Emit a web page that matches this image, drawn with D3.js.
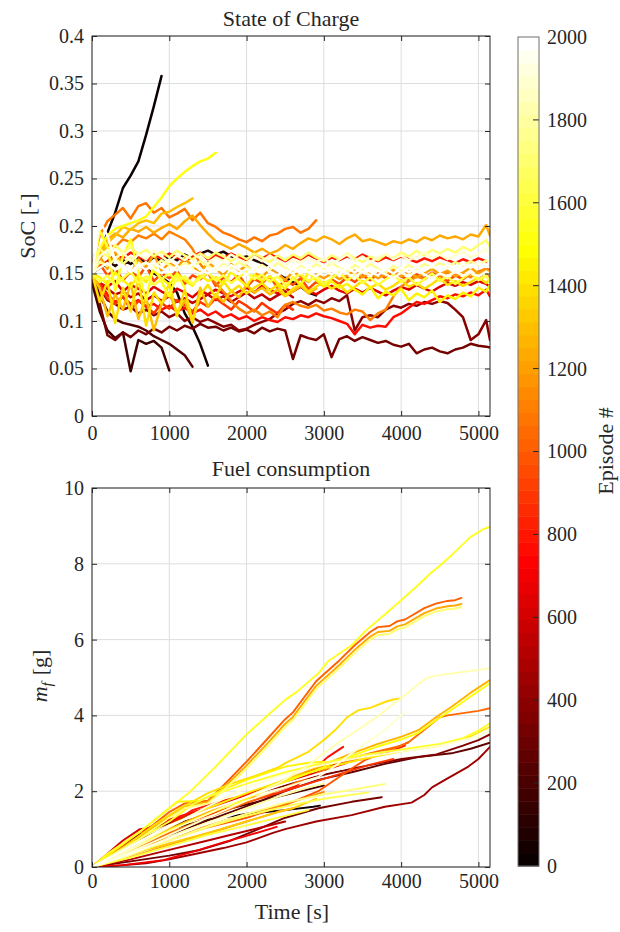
<!DOCTYPE html>
<html>
<head>
<meta charset="utf-8">
<script src="https://cdn.jsdelivr.net/npm/d3@7"></script>
<style>
  body { margin: 0; background: #fff; }
  svg { display: block; }
  text { font-family: "Liberation Serif", "Times New Roman", serif; fill: #262626; }
</style>
</head>
<body>
<svg id="fig" width="620" height="932"></svg>
<script>
// ---------- ticks ----------
const timeTicks = [0, 1000, 2000, 3000, 4000, 5000];
const socTicks = [0, 0.05, 0.1, 0.15, 0.2, 0.25, 0.3, 0.35, 0.4];
const socTickLabels = ["0", "0.05", "0.1", "0.15", "0.2", "0.25", "0.3", "0.35", "0.4"];
const fuelTicks = [0, 2, 4, 6, 8, 10];
const episodeTicks = [0, 200, 400, 600, 800, 1000, 1200, 1400, 1600, 1800, 2000];

// ---------- state of charge: sample times [s] ----------
const socTime = [0,100,200,300,400,500,600,700,800,900,
  1000,1100,1200,1300,1400,1500,1600,1700,1800,1900,
  2000,2100,2200,2300,2400,2500,2600,2700,2800,2900,
  3000,3100,3200,3300,3400,3500,3600,3700,3800,3900,
  4000,4100,4200,4300,4400,4500,4600,4700,4800,4900,
  5000,5100,5150];

// SoC per episode (one value per sample time, runs may stop early)
const soc_e20 = [.150,.170,.193,.214,.240,.253,.268,.296,.326,.358];
const soc_e50 = [.152,.160,.157,.165,.160,.163,.158,.155,.150,.146,
  .140,.130,.108,.094,.076,.053];
const soc_e75 = [.150,.156,.162,.158,.164,.160,.166,.161,.167,.163,
  .168,.164,.170,.166,.171,.174,.170,.173,.168,.166,
  .168,.164,.161,.156,.151,.146,.141,.136,.130,.127];
const soc_e170 = [.140,.110,.090,.082,.088,.047,.080,.076,.079,.072,.048];
const soc_e230 = [.145,.128,.110,.102,.098,.096,.094,.090,.084,.080,
  .076,.070,.064,.052];
const soc_e330 = [.145,.118,.085,.080,.088,.083,.090,.086,.092,.088,
  .094,.090,.095,.092,.097,.093,.094,.090,.093,.089,
  .091,.087,.093,.089,.092,.090,.060,.085,.082,.080,
  .086,.062,.081,.084,.079,.083,.080,.077,.079,.075,
  .073,.076,.066,.070,.072,.068,.066,.070,.072,.076,
  .074,.073,.072];
const soc_e380 = [.148,.135,.122,.118,.112,.115,.108,.112,.106,.110,
  .104,.108,.100,.104,.099,.102,.098,.094,.096,.090,
  .092,.096,.099,.102,.108,.112,.118,.121,.117,.122,
  .119,.124,.121,.127,.090,.104,.106,.104,.112,.116,
  .114,.118,.116,.120,.118,.121,.119,.112,.104,.080,
  .086,.101,.080];
const soc_e560 = [.148,.140,.134,.128,.131,.125,.129,.122,.127,.121,
  .126,.120,.124,.119,.123,.128,.122,.126,.120,.125,
  .130,.124,.128,.122,.127,.131,.125];
const soc_e640 = [.148,.140,.136,.142,.131,.138,.134,.129,.136,.131,
  .127,.134,.130,.125,.132,.128,.133,.129,.126,.131,
  .135,.130,.137,.133,.129,.134,.131,.136,.132,.128,
  .133,.137,.132,.129,.134,.130,.135,.131,.127,.132,
  .136,.133,.138,.134,.131,.136,.140,.137,.141,.138,
  .142,.139,.136];
const soc_e750 = [.150,.140,.128,.120,.125,.118,.122,.115,.118,.112,
  .116,.110,.114,.108,.112,.106,.110,.104,.107,.102,
  .105,.100,.104,.101,.099,.104,.102,.106,.104,.108,
  .105,.103,.100,.097,.086,.096,.093,.095,.094,.104,
  .108,.114,.120,.118,.122,.126,.124,.128,.126,.130,
  .127,.133,.126];
const soc_e800 = [.150,.157,.163,.170,.166,.172,.168,.164,.170,.166,
  .171,.167,.163,.168,.172,.165,.169,.166,.171,.167,
  .164,.169,.166,.170,.167,.163,.168,.165,.169,.166,
  .162,.167,.164,.168,.165,.170,.166,.163,.167,.164,
  .168,.165,.162,.166,.163,.167,.164,.161,.165,.162,
  .166,.163,.160];
const soc_e880 = [.150,.138,.124,.118,.126,.112,.121,.116,.108,.119,
  .113,.122,.117,.110,.120,.115,.124,.118,.112,.121,
  .116,.110,.119,.113,.108,.117,.112];
const soc_e960 = [.150,.160,.148,.155,.143,.152,.146,.158,.142,.150,
  .145,.153,.139,.148,.144,.151,.137,.146,.141,.149,
  .136,.144,.140,.147,.135,.143,.138,.145,.134,.141,
  .137,.144,.139,.146,.141,.148,.143,.150,.145,.152,
  .147,.143,.149,.145,.151,.146,.142,.148,.144,.150,
  .146,.152,.147];
const soc_e1070 = [.158,.190,.205,.212,.219,.208,.221,.224,.214,.219,
  .209,.213,.218,.206,.214,.203,.199,.193,.190,.186,
  .183,.188,.184,.190,.192,.197,.199,.193,.197,.206];
const soc_e1100 = [.150,.165,.180,.178,.186,.183,.190,.187,.192,.186,
  .194,.190,.186,.176,.160,.150,.140,.131,.121,.113,
  .108,.112,.106,.110,.104,.117,.120,.116,.114,.117,
  .111,.113,.109,.107,.112,.110,.101,.108,.112,.126,
  .136,.142,.147,.144,.149,.146,.151,.148,.150,.146,
  .152,.155,.154];
const soc_e1200 = [.152,.168,.155,.172,.160,.150,.165,.157,.170,.153,
  .161,.156,.166,.158,.150,.162,.155,.148,.160,.153,
  .158,.151,.146,.155,.150,.143,.152,.147,.141,.149,
  .145,.150,.144,.148,.153,.146,.151,.145,.149,.154,
  .147,.152,.146,.150,.155,.149,.153,.147,.151,.156,
  .150,.154,.148];
const soc_e1240 = [.150,.172,.186,.192,.188,.197,.194,.199,.193,.198,
  .202,.197,.205,.211,.201,.192,.184,.180,.176,.181,
  .177,.172,.176,.171,.174,.180,.176,.182,.187,.184,
  .189,.186,.181,.187,.191,.184,.186,.183,.180,.184,
  .182,.186,.183,.188,.185,.190,.187,.189,.186,.191,
  .189,.201,.190];
const soc_e1290 = [.150,.168,.182,.190,.199,.196,.203,.206,.203,.213,
  .215,.220,.224,.229];
const soc_e1300 = [.148,.135,.105,.128,.112,.140,.102,.125,.090,.118,
  .130,.108,.122,.098,.135,.115,.128,.120,.132,.125,
  .138,.130,.135,.128,.133,.126,.131,.137,.129,.134];
const soc_e1380 = [.150,.120,.142,.098,.135,.110,.145,.095,.130,.118,
  .140,.105,.133,.100,.128,.138,.125,.142,.131,.137,
  .129,.135,.140,.132,.138,.127,.134,.139,.131,.136,
  .141,.134,.138,.130,.136,.142,.135,.139,.133,.137,
  .143,.136,.140,.134,.139,.145,.138,.142,.137,.141,
  .146,.140,.144];
const soc_e1460 = [.150,.146,.139,.151,.143,.136,.148,.141,.153,.145,
  .138,.150,.143,.137,.149,.142,.146,.139,.152,.144,
  .137,.149,.142,.147,.140,.134,.146,.138,.151,.143,
  .136,.142,.135,.139,.133,.128,.136,.124,.131,.127,
  .134,.122,.129,.125,.132,.120,.127,.123,.130,.126,
  .135,.131,.138];
const soc_e1520 = [.152,.176,.190,.197,.200,.203,.206,.210,.220,.230,
  .242,.250,.257,.263,.268,.271,.277];
const soc_e1560 = [.150,.195,.178,.132,.168,.186,.152,.122,.160,.141,
  .126,.150,.135];
const soc_e1620 = [.150,.141,.148,.137,.145,.152,.140,.147,.138,.144,
  .150,.142,.147,.139,.145,.151,.143,.148,.140,.146,
  .152,.144,.149,.141,.147,.138,.144,.150,.142,.147,
  .139,.145,.151,.143,.148,.140,.146,.138,.144,.149,
  .141,.146,.138,.144,.150,.142,.147,.139,.145,.151,
  .143,.148,.141];
const soc_e1700 = [.152,.176,.168,.180,.172,.178,.170,.175,.168,.173,
  .167,.174,.169,.165,.171,.166,.172,.168,.163,.170,
  .165,.171,.167,.162,.169,.164,.170,.166,.172,.167,
  .163,.169,.165,.171,.166,.162,.168,.164,.170,.166,
  .172,.168,.174,.169,.175,.171,.176,.172,.178,.174,
  .180,.185,.178];
const soc_e1760 = [.150,.162,.158,.165,.160,.167,.155,.161,.157,.164,
  .159,.154,.161,.156,.163,.158,.153,.160,.155,.162,
  .157,.152,.159,.154,.161,.156,.150,.158,.153,.160,
  .155,.161,.156,.152,.159,.154,.160,.155,.151,.158,
  .153,.159,.154,.160,.156,.161,.157,.162,.158,.163,
  .159,.164,.160];
const soc_e1880 = [.152,.168,.175,.166,.172,.163,.170,.165,.174,.168,
  .162,.169,.164,.171,.166,.160,.167,.163,.170,.165,
  .161,.168,.163,.169,.164,.158,.165,.161,.167,.162,
  .166,.160,.165,.170,.163,.168,.162,.167,.171,.165,
  .169,.164,.168,.172,.166,.170,.165,.169,.173,.167,
  .171,.176,.170];
const soc_e1960 = [.150,.156,.161,.154,.159,.152,.157,.162,.155,.150,
  .157,.153,.159,.154,.150,.156,.152,.158,.153,.149,
  .155,.151,.157,.152,.148,.154,.150,.156,.151,.147,
  .153,.149,.155,.150,.146,.152,.148,.154,.149,.145,
  .151,.147,.153,.149,.145,.150,.147,.152,.148,.151,
  .147,.152,.149];
const soc_e1990 = [.150,.205,.190,.163,.157,.152,.159,.154,.161,.156,
  .151,.158,.153,.160,.155,.150,.157,.152,.159,.154,
  .149,.156,.151,.158,.153,.148,.155,.150,.157,.152,
  .158,.153,.149,.156,.151,.157,.152,.148,.155,.150,
  .156,.151,.157,.153,.158,.154,.159,.155,.160,.156,
  .161,.157,.162];

const socEpisodes = [20, 50, 75, 170, 230, 330, 380, 560, 640, 750, 800, 880, 960,
  1070, 1100, 1200, 1240, 1290, 1300, 1380, 1460, 1520, 1560, 1620, 1700, 1760, 1880, 1960, 1990];
const socRuns = [soc_e20, soc_e50, soc_e75, soc_e170, soc_e230, soc_e330, soc_e380, soc_e560,
  soc_e640, soc_e750, soc_e800, soc_e880, soc_e960, soc_e1070, soc_e1100, soc_e1200, soc_e1240,
  soc_e1290, soc_e1300, soc_e1380, soc_e1460, soc_e1520, soc_e1560, soc_e1620, soc_e1700,
  soc_e1760, soc_e1880, soc_e1960, soc_e1990];

// ---------- cumulative fuel [g] per episode: [time s, mass g] ----------
const fuel_e40 = [[0,0],[300,0.35],[600,0.7],[810,0.89],[1100,1.05],[1500,1.25],[2000,1.4],[2500,1.5],[2863,1.59],[2950,1.62]];
const fuel_e200 = [[0,0],[300,0.3],[700,0.7],[900,0.9],[1200,1.2],[1600,1.45],[2000,1.65],[2400,1.85],[2800,2.05],[3000,2.15]];
const fuel_e280 = [[0,0],[400,0.35],[800,0.7],[1200,1.0],[1600,1.3],[2000,1.6],[2500,2.0],[2930,2.3],[3360,2.5],[3790,2.72],[4220,2.9],[4650,3.0],[4900,3.12],[5150,3.28]];
const fuel_e330 = [[0,0],[500,0.15],[1000,0.3],[1400,0.45],[1800,0.7],[2100,0.95],[2500,1.3],[2930,1.55],[3360,1.72],[3750,1.84]];
const fuel_e360 = [[0,0],[300,0.45],[600,0.85],[1000,1.15],[1400,1.45],[1800,1.7],[2100,1.95],[2500,2.15],[2713,2.3],[3144,2.5],[3574,2.68],[4006,2.85],[4437,2.96],[4800,3.2],[5000,3.35],[5150,3.5]];
const fuel_e450 = [[0,0],[300,0.03],[700,0.1],[1000,0.2],[1300,0.33],[1700,0.5],[2000,0.65],[2342,0.9],[2500,1.0],[2900,1.2],[3360,1.37],[3790,1.59],[4135,1.7],[4300,1.9],[4400,2.1],[4567,2.3],[4870,2.65],[5000,2.85],[5150,3.17]];
const fuel_e520 = [[0,0],[500,0.2],[1000,0.45],[1500,0.7],[1800,0.85],[2200,1.05],[2500,1.2]];
const fuel_e600 = [[0,0],[200,0.35],[400,0.7],[620,1.0],[800,1.05],[1000,1.2],[1400,1.5],[1800,1.75],[2200,2.0],[2600,2.3],[3000,2.55],[3300,2.75]];
const fuel_e700 = [[0,0],[400,0.05],[923,0.18],[1300,0.4],[1700,0.65],[2000,0.82],[2389,1.06]];
const fuel_e760 = [[0,0],[300,0.45],[600,0.9],[800,1.1],[1000,1.25],[1300,1.45],[1600,1.6],[2000,1.8],[2400,1.95],[2650,2.15],[2860,2.56],[3050,2.9],[3250,3.17]];
const fuel_e790 = [[0,0],[500,0.55],[1000,1.1],[1300,1.5],[1700,1.75],[2000,1.9],[2500,2.3],[3000,2.65],[3500,2.85],[3800,3.0],[4050,3.2]];
const fuel_e900 = [[0,0],[400,0.4],[800,0.8],[1200,1.15],[1600,1.45],[2000,1.7],[2400,1.95],[2800,2.2],[3200,2.45],[3600,2.7],[3900,2.85]];
const fuel_e980 = [[0,0],[500,0.4],[1000,0.75],[1500,1.05],[2000,1.3],[2497,1.63],[2928,2.0],[3360,2.6],[3532,2.82],[3800,3.05],[4092,3.28]];
const fuel_e1000 = [[0,0],[300,0.4],[600,0.8],[1000,1.45],[1200,1.68],[1400,1.72],[1500,1.75],[1700,2.15],[2000,2.78],[2300,3.45],[2500,3.9],[2600,4.08],[2900,4.9],[3200,5.45],[3400,5.85],[3600,6.2],[3700,6.33],[3850,6.36],[3950,6.48],[4050,6.53],[4150,6.65],[4300,6.83],[4450,6.95],[4600,7.02],[4700,7.04],[4780,7.1]];
const fuel_e1050 = [[0,0],[500,0.45],[1000,0.9],[1500,1.3],[2000,1.7],[2500,2.1],[3000,2.55],[3500,2.95],[3800,3.1],[4000,3.2],[4100,3.3],[4300,3.62],[4500,3.95],[4600,4.0],[4800,4.06],[5000,4.12],[5150,4.19]];
const fuel_e1100 = [[0,0],[400,0.2],[800,0.45],[1200,0.7],[1600,0.95],[2000,1.2],[2400,1.45],[2600,1.55]];
const fuel_e1150 = [[0,0],[400,0.35],[800,0.65],[1200,0.9],[1600,1.15],[2000,1.4],[2400,1.6],[2800,1.85],[3000,1.98]];
const fuel_e1230 = [[0,0],[300,0.38],[600,0.75],[1000,1.35],[1200,1.6],[1400,1.68],[1500,1.72],[1700,2.08],[2000,2.68],[2300,3.33],[2500,3.78],[2600,3.96],[2900,4.78],[3200,5.33],[3400,5.73],[3600,6.08],[3700,6.2],[3850,6.23],[3950,6.35],[4050,6.4],[4150,6.52],[4300,6.7],[4450,6.82],[4600,6.88],[4700,6.9],[4780,6.94]];
const fuel_e1260 = [[0,0],[500,0.5],[1000,1.0],[1500,1.45],[2000,1.85],[2500,2.3],[2930,2.64],[3360,3.0],[3700,3.25],[4006,3.44],[4222,3.61],[4450,3.95],[4653,4.23],[4900,4.6],[5150,4.93]];
const fuel_e1340 = [[0,0],[300,0.2],[700,0.45],[1000,0.62],[1500,0.9],[2000,1.2],[2400,1.45],[2600,1.55],[2900,1.8]];
const fuel_e1380 = [[0,0],[400,0.5],[800,1.1],[1100,1.5],[1500,1.95],[1800,2.2],[2100,2.4],[2400,2.62],[2500,2.74],[2800,3.04],[3000,3.35],[3150,3.62],[3300,3.95],[3450,4.14],[3600,4.2],[3800,4.36],[3900,4.42],[4000,4.45]];
const fuel_e1420 = [[0,0],[500,0.55],[1000,1.1],[1500,1.55],[2000,1.95],[2500,2.3],[3000,2.6],[3500,2.85],[4000,3.05],[4500,3.2],[4900,3.45],[5150,3.7]];
const fuel_e1440 = [[0,0],[300,0.45],[600,0.9],[1000,1.55],[1100,1.72],[1400,1.75],[1700,2.05],[2000,2.3],[2500,2.65],[2800,2.75],[3000,2.78]];
const fuel_e1480 = [[0,0],[500,0.48],[1000,0.97],[1500,1.4],[2000,1.8],[2500,2.24],[2930,2.58],[3360,2.93],[3700,3.18],[4006,3.37],[4222,3.54],[4450,3.87],[4653,4.15],[4900,4.5],[5150,4.85]];
const fuel_e1560 = [[0,0],[200,0.35],[600,0.9],[1000,1.55],[1250,1.95],[1600,2.65],[2000,3.5],[2300,4.05],[2500,4.41],[2650,4.62],[2930,5.11],[3050,5.42],[3360,5.85],[3550,6.25],[3800,6.68],[4000,7.04],[4200,7.4],[4380,7.75],[4500,7.95],[4680,8.28],[4900,8.71],[5050,8.9],[5150,8.98]];
const fuel_e1580 = [[0,0],[500,0.6],[1000,1.2],[1300,1.65],[1500,1.85],[2000,2.2],[2500,2.5],[3000,2.75],[3500,2.95],[4000,3.1],[4500,3.25],[4800,3.4],[5000,3.6],[5150,3.79]];
const fuel_e1600 = [[0,0],[500,0.25],[1000,0.55],[1500,0.85],[2000,1.1],[2500,1.35],[2800,1.5]];
const fuel_e1650 = [[0,0],[500,0.35],[1000,0.7],[1500,1.05],[2000,1.35],[2500,1.6],[3000,1.8],[3574,1.97]];
const fuel_e1700 = [[0,0],[300,0.36],[600,0.72],[1000,1.3],[1200,1.55],[1400,1.64],[1500,1.68],[1700,2.02],[2000,2.6],[2300,3.25],[2500,3.7],[2600,3.88],[2900,4.7],[3200,5.25],[3400,5.65],[3600,6.0],[3700,6.12],[3850,6.15],[3950,6.27],[4050,6.32],[4150,6.44],[4300,6.62],[4450,6.74],[4600,6.8],[4700,6.82],[4780,6.86]];
const fuel_e1720 = [[0,0],[400,0.25],[800,0.55],[1200,0.85],[1600,1.15],[2000,1.4],[2500,1.7],[3000,1.92],[3400,2.05],[3790,2.19]];
const fuel_e1800 = [[0,0],[400,0.3],[800,0.6],[1200,0.95],[1600,1.25],[2000,1.55],[2400,1.85],[2800,2.1],[3000,2.2]];
const fuel_e1820 = [[0,0],[500,0.45],[1000,0.95],[1500,1.4],[2000,1.85],[2400,2.2],[2700,2.55],[2900,2.85],[3200,3.3],[3500,3.7],[3700,3.98],[3900,4.3],[4100,4.62],[4300,4.95],[4400,5.03],[4700,5.12],[5000,5.2],[5150,5.24]];
const fuel_e1880 = [[0,0],[500,0.4],[1000,0.85],[1500,1.3],[2000,1.75],[2500,2.1],[2930,2.38],[3100,2.6],[3360,3.0],[3600,3.35],[3790,3.61],[4050,4.1]];
const fuel_e1900 = [[0,0],[500,0.5],[1000,1.05],[1500,1.6],[2000,2.1],[2500,2.45],[3000,2.7],[3500,2.9],[4000,3.05],[4500,3.2],[5000,3.45],[5150,3.6]];
const fuel_e1950 = [[0,0],[500,0.35],[1000,0.75],[1500,1.15],[2000,1.5],[2400,1.75]];
const fuel_e1990 = [[0,0],[500,0.55],[1000,1.1],[1500,1.5],[2000,1.85],[2500,2.2],[3000,2.5],[3300,2.62]];

const fuelEpisodes = [40, 200, 280, 330, 360, 450, 520, 600, 700, 760, 790, 900, 980, 1000,
  1050, 1100, 1150, 1230, 1260, 1340, 1380, 1420, 1440, 1480, 1560, 1580, 1600, 1650, 1700,
  1720, 1800, 1820, 1880, 1900, 1950, 1990];
const fuelRuns = [fuel_e40, fuel_e200, fuel_e280, fuel_e330, fuel_e360, fuel_e450, fuel_e520,
  fuel_e600, fuel_e700, fuel_e760, fuel_e790, fuel_e900, fuel_e980, fuel_e1000, fuel_e1050,
  fuel_e1100, fuel_e1150, fuel_e1230, fuel_e1260, fuel_e1340, fuel_e1380, fuel_e1420,
  fuel_e1440, fuel_e1480, fuel_e1560, fuel_e1580, fuel_e1600, fuel_e1650, fuel_e1700,
  fuel_e1720, fuel_e1800, fuel_e1820, fuel_e1880, fuel_e1900, fuel_e1950, fuel_e1990];

// ---------- "hot" colour map, 64 levels over episodes 0..2000 ----------
const CMAP_N = 64;
function hotLevel(k) {            // k = 1..64
  const n = 24;
  const r = Math.min(k / n, 1);
  const g = Math.max(0, Math.min((k - n) / n, 1));
  const b = Math.max(0, Math.min((k - 2 * n) / (CMAP_N - 2 * n), 1));
  return d3.rgb(r * 255, g * 255, b * 255).formatHex();
}
function episodeColor(ep) {
  const k = Math.min(CMAP_N, Math.floor(ep / 2000 * CMAP_N) + 1);
  return hotLevel(k);
}

// ---------- layout ----------
const svg = d3.select("#fig");
const AX = "#262626";
const GRID = "#dedede";
const X0 = 92, X1 = 490;
const SERIF = '"Liberation Serif", "Times New Roman", serif';

const x = d3.scaleLinear().domain([0, 5150]).range([X0, X1]);
const ySoc = d3.scaleLinear().domain([0, 0.4]).range([416, 36]);
const yFuel = d3.scaleLinear().domain([0, 10]).range([867, 488]);
const yBar = d3.scaleLinear().domain([0, 2000]).range([866, 37]);

function panel(y, yTicks, yLabels, clipId, xPad) {
  const [yb, yt] = y.range();
  const g = svg.append("g");
  // grid
  g.selectAll(".gx").data(timeTicks).join("line")
    .attr("x1", d => x(d)).attr("x2", d => x(d)).attr("y1", yt).attr("y2", yb)
    .attr("stroke", GRID).attr("stroke-width", 1);
  g.selectAll(".gy").data(yTicks).join("line")
    .attr("x1", X0).attr("x2", X1).attr("y1", d => y(d)).attr("y2", d => y(d))
    .attr("stroke", GRID).attr("stroke-width", 1);
  svg.append("clipPath").attr("id", clipId).append("rect")
    .attr("x", X0).attr("y", yt).attr("width", X1 - X0).attr("height", yb - yt);
  const lines = svg.append("g").attr("clip-path", `url(#${clipId})`);
  // axes (ticks point inwards, box on all four sides)
  const axes = svg.append("g");
  const left = d3.axisLeft(y).tickValues(yTicks).tickSize(-5).tickPadding(8)
    .tickFormat((d, i) => yLabels[i]);
  const right = d3.axisRight(y).tickValues(yTicks).tickSize(-5).tickFormat("");
  const bottom = d3.axisBottom(x).tickValues(timeTicks).tickSize(-5).tickPadding(xPad)
    .tickFormat(d3.format("d"));
  const top = d3.axisTop(x).tickValues(timeTicks).tickSize(-5).tickFormat("");
  axes.append("g").attr("transform", `translate(${X0},0)`).call(left);
  axes.append("g").attr("transform", `translate(${X1},0)`).call(right);
  axes.append("g").attr("transform", `translate(0,${yb})`).call(bottom);
  axes.append("g").attr("transform", `translate(0,${yt})`).call(top);
  axes.selectAll(".domain").remove();
  axes.selectAll("g").attr("font-family", SERIF);
  axes.selectAll(".tick line").attr("stroke", AX).attr("stroke-width", 1);
  axes.selectAll(".tick text").attr("fill", AX).style("font-size", "20px")
    .style("font-family", SERIF);
  axes.append("rect").attr("x", X0).attr("y", yt).attr("width", X1 - X0).attr("height", yb - yt)
    .attr("fill", "none").attr("stroke", AX).attr("stroke-width", 1);
  return lines;
}

// ---------- State of Charge ----------
const socLayer = panel(ySoc, socTicks, socTickLabels, "clipSoc", 10);
const socLine = d3.line().x(d => x(d[0])).y(d => ySoc(d[1]));
const socOrder = d3.range(socRuns.length).sort((a, b) => socEpisodes[a] - socEpisodes[b]);
socOrder.forEach(i => {
  const pts = socRuns[i].map((v, j) => [socTime[j], v]);
  socLayer.append("path").datum(pts).attr("d", socLine)
    .attr("fill", "none").attr("stroke", episodeColor(socEpisodes[i]))
    .attr("stroke-width", 2.5).attr("stroke-linejoin", "round").attr("stroke-linecap", "round");
});

// ---------- Fuel consumption ----------
const fuelLayer = panel(yFuel, fuelTicks, fuelTicks.map(String), "clipFuel", 7);
const fuelLine = d3.line().x(d => x(d[0])).y(d => yFuel(d[1]));
const fuelOrder = d3.range(fuelRuns.length).sort((a, b) => fuelEpisodes[a] - fuelEpisodes[b]);
fuelOrder.forEach(i => {
  fuelLayer.append("path").datum(fuelRuns[i]).attr("d", fuelLine)
    .attr("fill", "none").attr("stroke", episodeColor(fuelEpisodes[i]))
    .attr("stroke-width", 1.9).attr("stroke-linejoin", "round").attr("stroke-linecap", "round");
});

// ---------- titles and labels ----------
const txt = (x0, y0, s, size, rot) => svg.append("text")
  .attr("transform", `translate(${x0},${y0})` + (rot ? ` rotate(${rot})` : ""))
  .attr("text-anchor", "middle").style("font-size", size + "px").text(s);

txt(291, 26, "State of Charge", 22);
txt(291, 476, "Fuel consumption", 22);
txt(292, 919, "Time [s]", 22);
txt(35, 226, "SoC [-]", 22, -90);

const mf = svg.append("text").attr("transform", "translate(47,676) rotate(-90)")
  .attr("text-anchor", "middle").style("font-size", "22px");
mf.append("tspan").style("font-style", "italic").text("m");
mf.append("tspan").style("font-style", "italic").style("font-size", "15px").attr("dy", 5).text("f");
mf.append("tspan").attr("dy", -5).attr("dx", 7).text("[g]");

// ---------- colour bar ----------
const CB0 = 518, CB1 = 539;
const levels = d3.range(CMAP_N);
svg.append("g").selectAll("rect").data(levels).join("rect")
  .attr("x", CB0).attr("width", CB1 - CB0)
  .attr("y", k => yBar((k + 1) * 2000 / CMAP_N))
  .attr("height", k => yBar(k * 2000 / CMAP_N) - yBar((k + 1) * 2000 / CMAP_N) + 0.5)
  .attr("fill", k => hotLevel(k + 1));
const cbAxis = d3.axisRight(yBar).tickValues(episodeTicks).tickSize(0).tickPadding(8)
  .tickFormat(d3.format("d"));
const cb = svg.append("g").attr("transform", `translate(${CB1},0)`).call(cbAxis);
cb.attr("font-family", SERIF);
cb.select(".domain").remove();
cb.selectAll(".tick text").attr("fill", AX).style("font-size", "20px")
  .style("font-family", SERIF);
svg.append("g").selectAll("line").data(episodeTicks.slice(1, -1)).join("line")
  .attr("x1", CB1 - 6).attr("x2", CB1).attr("y1", d => yBar(d)).attr("y2", d => yBar(d))
  .attr("stroke", AX).attr("stroke-width", 1);
svg.append("rect").attr("x", CB0).attr("y", 37).attr("width", CB1 - CB0).attr("height", 866 - 37)
  .attr("fill", "none").attr("stroke", "#6e6e6e").attr("stroke-width", 1);
txt(613, 451, "Episode #", 22, -90);
</script>
</body>
</html>
